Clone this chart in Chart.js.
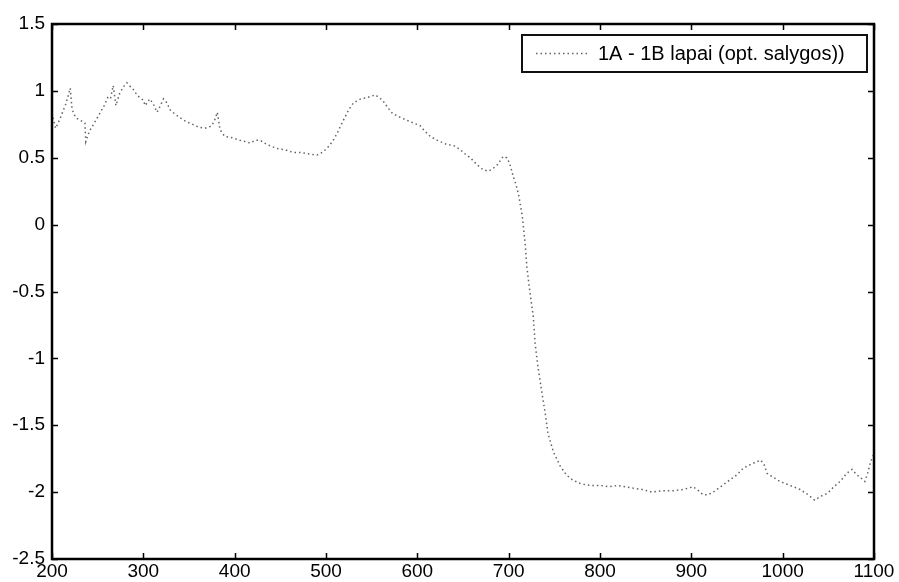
<!DOCTYPE html>
<html>
<head>
<meta charset="utf-8">
<script src="https://cdn.jsdelivr.net/npm/chart.js@4/dist/chart.umd.min.js"></script>
<style>
  html, body { margin: 0; padding: 0; background: #fff; }
  #wrap { width: 899px; height: 582px; }
</style>
</head>
<body>
<div id="wrap"><canvas id="grafico" width="899" height="582"></canvas></div>
<script>
// series
const bangosIlgis = [201, 204, 208, 211, 215, 218, 220, 222, 226, 231, 236, 237, 240, 242, 248, 253, 258, 261, 264, 267,
  270, 274, 278, 282, 286, 289, 293, 296, 300, 302, 305, 307, 311, 315, 318, 322, 326, 329, 334, 340,
  347, 354, 360, 367, 372, 375, 378, 381, 384, 389, 397, 406, 412, 417, 422, 428, 435, 446, 455, 464,
  472, 480, 490, 496, 501, 507, 512, 519, 525, 530, 538, 545, 554, 562, 567, 573, 582, 592, 603, 608,
  614, 622, 632, 640, 647, 652, 658, 665, 672, 678, 683, 688, 694, 698, 701, 705, 708, 711, 713, 715,
  718, 720, 723, 727, 729, 732, 736, 740, 743, 749, 756, 763, 770, 780, 789, 800, 810, 819, 828, 836,
  846, 857, 868, 880, 891, 902, 908, 913, 918, 924, 932, 942, 950, 957, 966, 976, 980, 983, 990, 997,
  1008, 1019, 1028, 1035, 1042, 1049, 1056, 1063, 1070, 1076, 1081, 1085, 1090, 1093, 1096, 1100]
const skirtumas = [0.80, 0.72, 0.78, 0.83, 0.90, 0.97, 1.02, 0.86, 0.80, 0.78, 0.76, 0.62, 0.68, 0.71, 0.78, 0.84, 0.90, 0.95, 0.94, 1.04,
  0.89, 0.98, 1.03, 1.06, 1.03, 1.01, 0.97, 0.95, 0.93, 0.89, 0.92, 0.94, 0.90, 0.84, 0.88, 0.94, 0.91, 0.86, 0.83, 0.80,
  0.77, 0.75, 0.73, 0.72, 0.73, 0.74, 0.78, 0.84, 0.71, 0.66, 0.65, 0.63, 0.62, 0.61, 0.63, 0.63, 0.60, 0.57, 0.56, 0.54,
  0.54, 0.53, 0.52, 0.54, 0.57, 0.62, 0.68, 0.78, 0.86, 0.91, 0.94, 0.95, 0.97, 0.93, 0.88, 0.83, 0.80, 0.77, 0.74, 0.70,
  0.66, 0.63, 0.60, 0.59, 0.56, 0.53, 0.50, 0.45, 0.41, 0.40, 0.42, 0.45, 0.51, 0.50, 0.46, 0.36, 0.30, 0.22, 0.14, 0.06,
  -0.14, -0.32, -0.49, -0.69, -0.89, -1.06, -1.24, -1.41, -1.56, -1.70, -1.80, -1.87, -1.91, -1.94, -1.95, -1.95, -1.96, -1.95, -1.96, -1.97,
  -1.98, -2.00, -1.99, -1.99, -1.98, -1.96, -1.99, -2.02, -2.02, -2.00, -1.96, -1.91, -1.87, -1.82, -1.79, -1.76, -1.80, -1.86, -1.89, -1.92,
  -1.95, -1.98, -2.02, -2.06, -2.03, -2.01, -1.96, -1.92, -1.86, -1.83, -1.87, -1.89, -1.92, -1.86, -1.78, -1.71]
const xTicks = [200, 300, 400, 500, 600, 700, 800, 900, 1000, 1100]
const yTicks = [-2.5, -2, -1.5, -1, -0.5, 0, 0.5, 1, 1.5]
const serijosPavadinimas = '1A - 1B lapai (opt. salygos))'

const fontas = "'Liberation Sans', Arial, sans-serif"
const linijosSpalva = 'rgba(70,70,70,0.85)'

// matlab style box, inward ticks and legend inside the plot
const remelis = {
    id: 'remelis',
    afterDatasetsDraw(chart) {
        const { ctx, chartArea: a, scales } = chart
        ctx.save()
        ctx.strokeStyle = '#000'
        ctx.lineWidth = 1.5
        ctx.beginPath()
        xTicks.forEach(v => {
            const px = Math.round(scales.x.getPixelForValue(v)) + 0.5
            ctx.moveTo(px, a.bottom); ctx.lineTo(px, a.bottom - 6)
            ctx.moveTo(px, a.top); ctx.lineTo(px, a.top + 6)
        })
        yTicks.forEach(v => {
            const py = Math.round(scales.y.getPixelForValue(v)) + 0.5
            ctx.moveTo(a.left, py); ctx.lineTo(a.left + 6, py)
            ctx.moveTo(a.right, py); ctx.lineTo(a.right - 6, py)
        })
        ctx.stroke()
        ctx.lineWidth = 2.5
        ctx.strokeRect(a.left, a.top, a.right - a.left, a.bottom - a.top)

        // legenda
        const lx = 522, ly = 35, lw = 345, lh = 37
        ctx.fillStyle = '#fff'
        ctx.fillRect(lx, ly, lw, lh)
        ctx.lineWidth = 2
        ctx.strokeStyle = '#111'
        ctx.strokeRect(lx, ly, lw, lh)
        ctx.strokeStyle = linijosSpalva
        ctx.lineWidth = 1.5
        ctx.setLineDash([1.5, 3])
        ctx.beginPath()
        ctx.moveTo(536, ly + lh / 2); ctx.lineTo(590, ly + lh / 2)
        ctx.stroke()
        ctx.setLineDash([])
        ctx.fillStyle = '#000'
        ctx.font = '20px ' + fontas
        ctx.textBaseline = 'middle'
        ctx.fillText(serijosPavadinimas, 598, ly + lh / 2 + 1)
        ctx.restore()
    }
}

const ctx = document.getElementById('grafico').getContext('2d')

new Chart(ctx, {
    type: 'scatter',
    data: {
        datasets: [{
            label: serijosPavadinimas,
            data: bangosIlgis.map((x, i) => ({ x: x, y: skirtumas[i] })),
            showLine: true,
            borderColor: linijosSpalva,
            borderWidth: 1.5,
            borderDash: [1.5, 3],
            pointRadius: 0,
            tension: 0,
            fill: false
        }]
    },
    options: {
        responsive: false,
        animation: false,
        layout: { padding: { top: 24, right: 25, left: 0, bottom: 0 } },
        plugins: {
            legend: { display: false },
            tooltip: { enabled: false }
        },
        scales: {
            x: {
                type: 'linear',
                min: 200, max: 1100,
                afterBuildTicks: s => { s.ticks = xTicks.map(v => ({ value: v })) },
                afterFit: s => { s.height = 23 },
                ticks: {
                    autoSkip: false, maxRotation: 0, padding: 1,
                    color: '#000', font: { family: fontas, size: 19 },
                    callback: v => String(v)
                },
                grid: { display: false, drawTicks: false },
                border: { display: false }
            },
            y: {
                type: 'linear',
                min: -2.5, max: 1.5,
                afterBuildTicks: s => { s.ticks = yTicks.map(v => ({ value: v })) },
                afterFit: s => { s.width = 52 },
                ticks: {
                    autoSkip: false, padding: 7,
                    color: '#000', font: { family: fontas, size: 19 },
                    callback: v => String(v)
                },
                grid: { display: false, drawTicks: false },
                border: { display: false }
            }
        }
    },
    plugins: [remelis]
})
</script>
</body>
</html>
